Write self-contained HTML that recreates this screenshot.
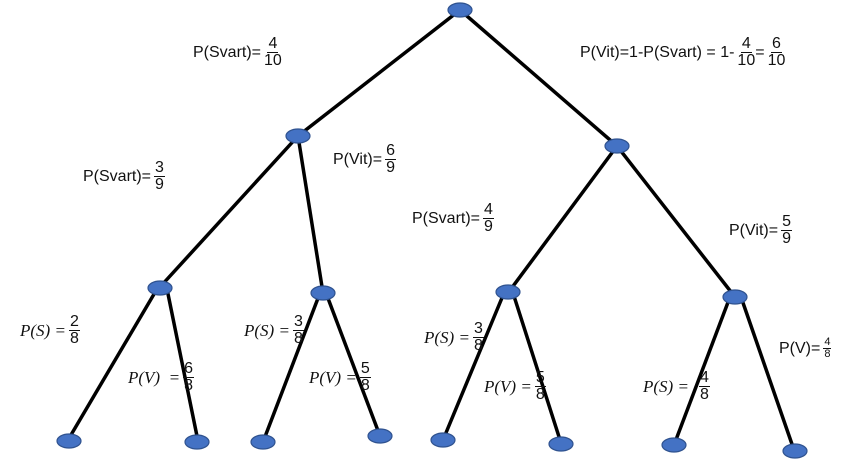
<!DOCTYPE html>
<html><head><meta charset="utf-8"><style>
body{margin:0;width:864px;height:460px;background:#fff;position:relative;overflow:hidden;font-family:"Liberation Sans",sans-serif;color:#111}
svg{position:absolute;left:0;top:0}
.l{position:absolute;font-size:16px;display:flex;align-items:center;white-space:nowrap}
.f{display:inline-flex;flex-direction:column;align-items:center;margin-left:3px;line-height:16px}
.f span:first-child{border-bottom:1.3px solid #111;padding:0 1px}
.m{font-family:"Liberation Serif",serif;font-style:italic;font-size:17px}
.s{font-size:11px;line-height:11px}
</style></head><body>
<svg width="864" height="460">
<g stroke="#000" stroke-width="3.5" fill="none">
<line x1="460" y1="10" x2="298" y2="136"/><line x1="460" y1="10" x2="617" y2="146"/>
<line x1="298" y1="136" x2="160" y2="287"/><line x1="298" y1="136" x2="323" y2="293"/>
<line x1="617" y1="146" x2="508" y2="293"/><line x1="617" y1="146" x2="735" y2="297"/>
<line x1="157" y1="289" x2="68" y2="440"/><line x1="167" y1="289" x2="198" y2="441"/>
<line x1="320" y1="293" x2="263" y2="442"/><line x1="326" y1="293" x2="380" y2="436"/>
<line x1="504" y1="293" x2="443" y2="440"/><line x1="513" y1="293" x2="561" y2="443"/>
<line x1="730" y1="297" x2="674" y2="445"/><line x1="741" y1="297" x2="794" y2="450"/>
</g>
<g fill="#4472c4" stroke="#2f528f" stroke-width="1.2">
<ellipse cx="460" cy="10" rx="12" ry="7"/>
<ellipse cx="298" cy="136" rx="12" ry="7"/><ellipse cx="617" cy="146" rx="12" ry="7"/>
<ellipse cx="160" cy="288" rx="12" ry="7"/><ellipse cx="323" cy="293" rx="12" ry="7"/>
<ellipse cx="508" cy="292" rx="12" ry="7"/><ellipse cx="735" cy="297" rx="12" ry="7"/>
<ellipse cx="69" cy="441" rx="12" ry="7"/><ellipse cx="197" cy="442" rx="12" ry="7"/>
<ellipse cx="263" cy="442" rx="12" ry="7"/><ellipse cx="380" cy="436" rx="12" ry="7"/>
<ellipse cx="443" cy="440" rx="12" ry="7"/><ellipse cx="561" cy="444" rx="12" ry="7"/>
<ellipse cx="674" cy="445" rx="12" ry="7"/><ellipse cx="795" cy="451" rx="12" ry="7"/>
</g>
</svg>
<div class="l" style="left:193px;top:36px">P(Svart)=<span class="f"><span>4</span><span>10</span></span></div>
<div class="l" style="left:580px;top:36px">P(Vit)=1-P(Svart) = 1-<span class="f"><span>4</span><span>10</span></span>=<span class="f"><span>6</span><span>10</span></span></div>
<div class="l" style="left:333px;top:143px">P(Vit)=<span class="f"><span>6</span><span>9</span></span></div>
<div class="l" style="left:83px;top:160px">P(Svart)=<span class="f"><span>3</span><span>9</span></span></div>
<div class="l" style="left:412px;top:202px">P(Svart)=<span class="f"><span>4</span><span>9</span></span></div>
<div class="l" style="left:729px;top:214px">P(Vit)=<span class="f"><span>5</span><span>9</span></span></div>
<div class="l" style="left:20px;top:314px"><span class="m">P(S) =</span><span class="f"><span>2</span><span>8</span></span></div>
<div class="l" style="left:128px;top:361px"><span class="m">P(V) &nbsp;=</span><span class="f"><span>6</span><span>8</span></span></div>
<div class="l" style="left:244px;top:314px"><span class="m">P(S) =</span><span class="f"><span>3</span><span>8</span></span></div>
<div class="l" style="left:309px;top:361px"><span class="m">P(V) =</span><span class="f"><span>5</span><span>8</span></span></div>
<div class="l" style="left:424px;top:321px"><span class="m">P(S) =</span><span class="f"><span>3</span><span>8</span></span></div>
<div class="l" style="left:484px;top:370px"><span class="m">P(V) =</span><span class="f"><span>5</span><span>8</span></span></div>
<div class="l" style="left:643px;top:370px"><span class="m">P(S) =</span><span class="f" style="margin-left:10px"><span>4</span><span>8</span></span></div>
<div class="l" style="left:779px;top:337px">P(V)=<span class="f s"><span>4</span><span>8</span></span></div>
</body></html>
